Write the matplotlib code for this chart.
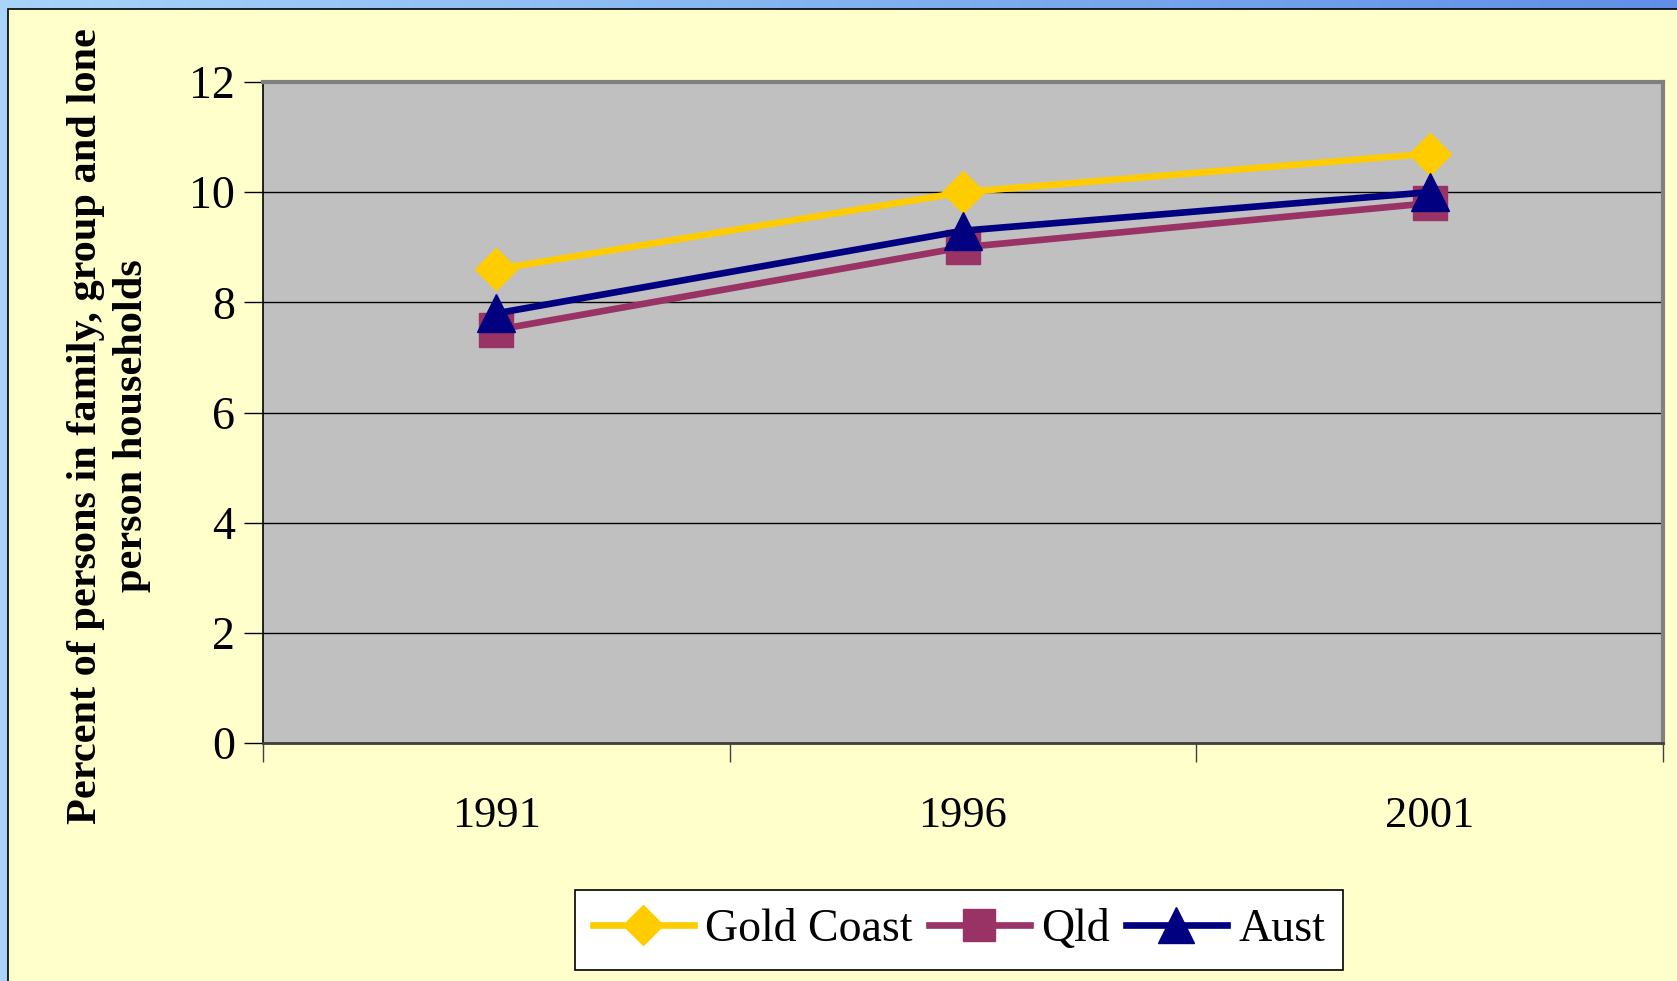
import numpy as np
import matplotlib
matplotlib.use('Agg')
from matplotlib import pyplot as plt
from matplotlib.patches import Rectangle

# data
years = ['1991', '1996', '2001']
gold_coast = [8.6, 10.0, 10.7]
qld = [7.5, 9.0, 9.8]
aust = [7.8, 9.3, 10.0]
yticks = [0, 2, 4, 6, 8, 10, 12]

plt.rcParams['font.family'] = ['Liberation Serif', 'DejaVu Serif']

W, H = 1677, 981
fig = plt.figure(figsize=(W / 100, H / 100), dpi=100)

# blue frame with gradient, yellow slide area on top
bg = fig.add_axes([0, 0, 1, 1])
grad = np.linspace(0, 1, 256).reshape(1, -1)
bg.imshow(grad, aspect='auto', extent=[0, 1, 0, 1],
          cmap=matplotlib.colors.LinearSegmentedColormap.from_list('b', ['#a8d4fa', '#5f8fe8']))
bg.add_patch(Rectangle((8 / W, -0.1), 1.2, 1 - 9 / H + 0.1, facecolor='#ffffcc',
                       edgecolor='black', linewidth=1.2))
bg.set_xlim(0, 1)
bg.set_ylim(0, 1)
bg.axis('off')

ax = fig.add_axes([263 / W, 1 - 743 / H, (1663 - 263) / W, (743 - 82) / H])
ax.set_facecolor('#c0c0c0')
x = np.arange(len(years))

ax.plot(x, gold_coast, color='#ffcc00', lw=4.8, marker='D', ms=21, label='Gold Coast', zorder=3)
ax.plot(x, qld, color='#993366', lw=4.8, marker='s', ms=24, label='Qld', zorder=3)
ax.plot(x, aust, color='#000080', lw=4.8, marker='^', ms=28, label='Aust', zorder=4)

ax.set_xlim(-0.5, 2.5)
ax.set_ylim(0, 12)
ax.set_yticks(yticks)
ax.set_yticklabels([str(v) for v in yticks], fontsize=33)
ax.yaxis.grid(True, color='black', lw=1.0)
ax.set_axisbelow(True)

# category axis: ticks between categories, labels at centres
ax.set_xticks([-0.5, 0.5, 1.5, 2.5])
ax.set_xticklabels([])
ax.set_xticks(x, minor=True)
ax.set_xticklabels(years, minor=True, fontsize=32)
ax.tick_params(axis='x', which='minor', length=0, pad=38)
ax.tick_params(axis='x', which='major', length=14, width=1, color='#404040', direction='out')
ax.tick_params(axis='y', length=14, width=1, direction='out', pad=6)

ax.spines['left'].set_color('black')
ax.spines['left'].set_linewidth(1.2)
ax.spines['bottom'].set_color('#404040')
ax.spines['bottom'].set_linewidth(2)
ax.spines['top'].set_color('#808080')
ax.spines['top'].set_linewidth(3)
ax.spines['right'].set_color('#808080')
ax.spines['right'].set_linewidth(3)

fig.text(109 / W, 1 - 426 / H, 'Percent of persons in family, group and lone\nperson households',
         rotation=90, ha='center', va='center', fontsize=30.5, fontweight='bold',
         linespacing=1.25, multialignment='center')

leg = fig.legend(loc='center', bbox_to_anchor=(959 / W, 1 - 930 / H), ncol=3,
                 fontsize=33, frameon=True, fancybox=False, edgecolor='black',
                 framealpha=1, facecolor='white', handlelength=2.2,
                 columnspacing=0.35, handletextpad=0.25, borderpad=0.4,
                 borderaxespad=0, markerscale=0.95)
leg.get_frame().set_linewidth(1.2)

fig.savefig('out.png', dpi=100)
